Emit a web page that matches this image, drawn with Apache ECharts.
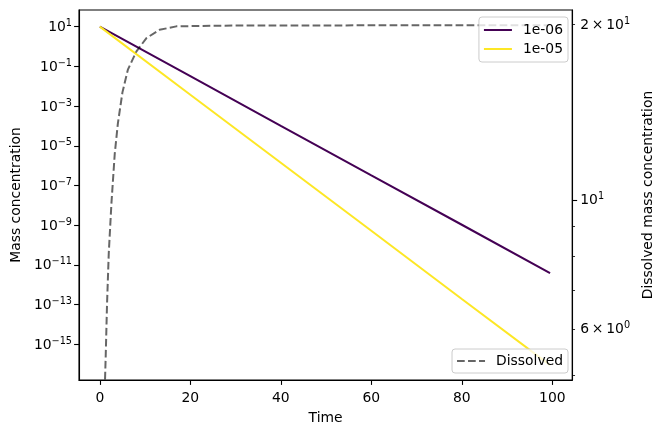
<!DOCTYPE html>
<html>
<head>
<meta charset="utf-8">
<script src="https://cdn.jsdelivr.net/npm/echarts@6/dist/echarts.min.js"></script>
<style>
  html, body { margin: 0; padding: 0; background: #fff; }
  #chart { width: 663px; height: 432px; }
</style>
</head>
<body>
<div id="chart"></div>
<script>
// decay curves
const decayTime = [0, 20, 40, 60, 80, 99.5];
const mass1e6 = [10, 3.2e-2, 1.0e-4, 3.2e-7, 1.05e-9, 3.8e-12];
const mass1e5 = [10, 3.7e-3, 1.4e-6, 5.2e-10, 1.9e-13, 8.9e-17];

// dissolved mass (right axis)
const dissolvedTime = [0.9, 1.16, 1.32, 1.6, 1.98, 2.57, 3.3, 4.0, 5.0, 6.2, 8.1, 10.3, 13.2, 16.9, 25, 35, 60, 99.5];
const dissolvedMass = [4.5, 4.93, 5.45, 6.64, 8.1, 9.87, 12.0, 13.55, 15.3, 16.74, 18.0, 18.97, 19.6, 19.87, 19.92, 19.94, 19.95, 19.95];

const xTicks = [0, 20, 40, 60, 80, 100];
const leftTicks = [1e-15, 1e-13, 1e-11, 1e-9, 1e-7, 1e-5, 1e-3, 1e-1, 1e1];
const rightLabelTicks = [6, 10, 20];
const rightMajorTicks = [10];
const rightMinorTicks = [5, 6, 7, 8, 9, 20];

const FONT = "DejaVu Sans";
const MINUS = "\u2212";

function pow10Label(value) {
  const e = Math.round(Math.log10(value));
  return "{b|10}{sup|" + String(e).replace("-", MINUS) + "}";
}

function rightLabel(value) {
  const e = Math.floor(Math.log10(value) + 1e-9);
  const m = Math.round(value / Math.pow(10, e));
  const exp = String(e).replace("-", MINUS);
  if (m === 1) return "{b|10}{sup|" + exp + "}";
  return "{b|" + m + "\u2009\u00d7\u200910}{sup|" + exp + "}";
}

const rich = {
  b: { fontFamily: FONT, fontSize: 13.9, color: "#000", lineHeight: 16, verticalAlign: "bottom" },
  sup: { fontFamily: FONT, fontSize: 9.7, color: "#000", lineHeight: 10, verticalAlign: "top" },
};

const chart = echarts.init(document.getElementById("chart"), null, { renderer: "canvas" });

const legendBase = {
  orient: "vertical",
  align: "left",
  itemWidth: 28,
  itemHeight: 14,
  itemGap: 5,
  itemStyle: { opacity: 0, borderWidth: 0 },
  backgroundColor: "rgba(255,255,255,0.8)",
  borderColor: "#cccccc",
  borderWidth: 1,
  borderRadius: 3,
  textStyle: { fontFamily: FONT, fontSize: 13.9, color: "#000", padding: [0, 0, 0, 6] },
};

const axisLineStyle = { show: true, onZero: false, lineStyle: { color: "#000", width: 1.1 } };

const option = {
  animation: false,
  backgroundColor: "#fff",
  textStyle: { fontFamily: FONT },
  grid: { left: 79, right: 88, top: 10, bottom: 52, show: true, borderColor: "#000", borderWidth: 1.1, backgroundColor: "transparent" },
  legend: [
    { ...legendBase, data: ["1e-06", "1e-05"], right: 95, top: 17, padding: [6, 5, 6, 4] },
    { ...legendBase, data: ["Dissolved"], right: 95, bottom: 59, padding: [5, 5, 5, 4] },
  ],
  xAxis: {
    type: "value",
    min: -4.6,
    max: 104.4,
    name: "Time",
    nameLocation: "middle",
    nameGap: 31,
    nameTextStyle: { fontFamily: FONT, fontSize: 13.9, color: "#000" },
    axisLine: axisLineStyle,
    axisTick: { show: true, length: 4.9, lineStyle: { color: "#000", width: 1.1 }, customValues: xTicks },
    axisLabel: { fontFamily: FONT, fontSize: 13.9, color: "#000", margin: 11, customValues: xTicks },
    splitLine: { show: false },
  },
  yAxis: [
    {
      type: "log",
      logBase: 10,
      min: Math.pow(10, -16.8),
      max: Math.pow(10, 1.84),
      position: "left",
      name: "Mass concentration",
      nameLocation: "middle",
      nameRotate: 90,
      nameGap: 56,
      nameTextStyle: { fontFamily: FONT, fontSize: 13.9, color: "#000" },
      axisLine: axisLineStyle,
      axisTick: { show: true, length: 4.9, lineStyle: { color: "#000", width: 1.1 }, customValues: leftTicks },
      axisLabel: { margin: 7, customValues: leftTicks, formatter: pow10Label, rich },
      splitLine: { show: false },
      minorTick: { show: false },
    },
    {
      type: "log",
      logBase: 10,
      min: 4.9,
      max: 21.2,
      position: "right",
      name: "Dissolved mass concentration",
      nameLocation: "middle",
      nameRotate: 90,
      nameGap: 61,
      nameTextStyle: { fontFamily: FONT, fontSize: 13.9, color: "#000" },
      axisLine: axisLineStyle,
      axisTick: { show: true, length: 4.9, lineStyle: { color: "#000", width: 1.1 }, customValues: rightMajorTicks },
      axisLabel: { margin: 8, customValues: rightLabelTicks, formatter: rightLabel, rich },
      splitLine: { show: false },
    },
    {
      // minor ticks of the right axis
      type: "log",
      logBase: 10,
      min: 4.9,
      max: 21.2,
      position: "right",
      axisLine: { show: false, onZero: false },
      axisTick: { show: true, length: 2.8, lineStyle: { color: "#000", width: 0.8 }, customValues: rightMinorTicks },
      axisLabel: { show: false },
      splitLine: { show: false },
    },
  ],
  series: [
    {
      name: "1e-06",
      type: "line",
      yAxisIndex: 0,
      symbol: "none",
      clip: true,
      itemStyle: { color: "#440154" },
      lineStyle: { color: "#440154", width: 2 },
      data: decayTime.map((t, i) => [t, mass1e6[i]]),
    },
    {
      name: "1e-05",
      type: "line",
      yAxisIndex: 0,
      symbol: "none",
      clip: true,
      itemStyle: { color: "#fde725" },
      lineStyle: { color: "#fde725", width: 2 },
      data: decayTime.map((t, i) => [t, mass1e5[i]]),
    },
    {
      name: "Dissolved",
      type: "line",
      yAxisIndex: 1,
      symbol: "none",
      clip: true,
      itemStyle: { color: "rgba(0,0,0,0.6)" },
      lineStyle: { color: "rgba(0,0,0,0.6)", width: 2, type: [7.7, 3.3] },
      data: dissolvedTime.map((t, i) => [t, dissolvedMass[i]]),
    },
  ],
};

chart.setOption(option);
</script>
</body>
</html>
